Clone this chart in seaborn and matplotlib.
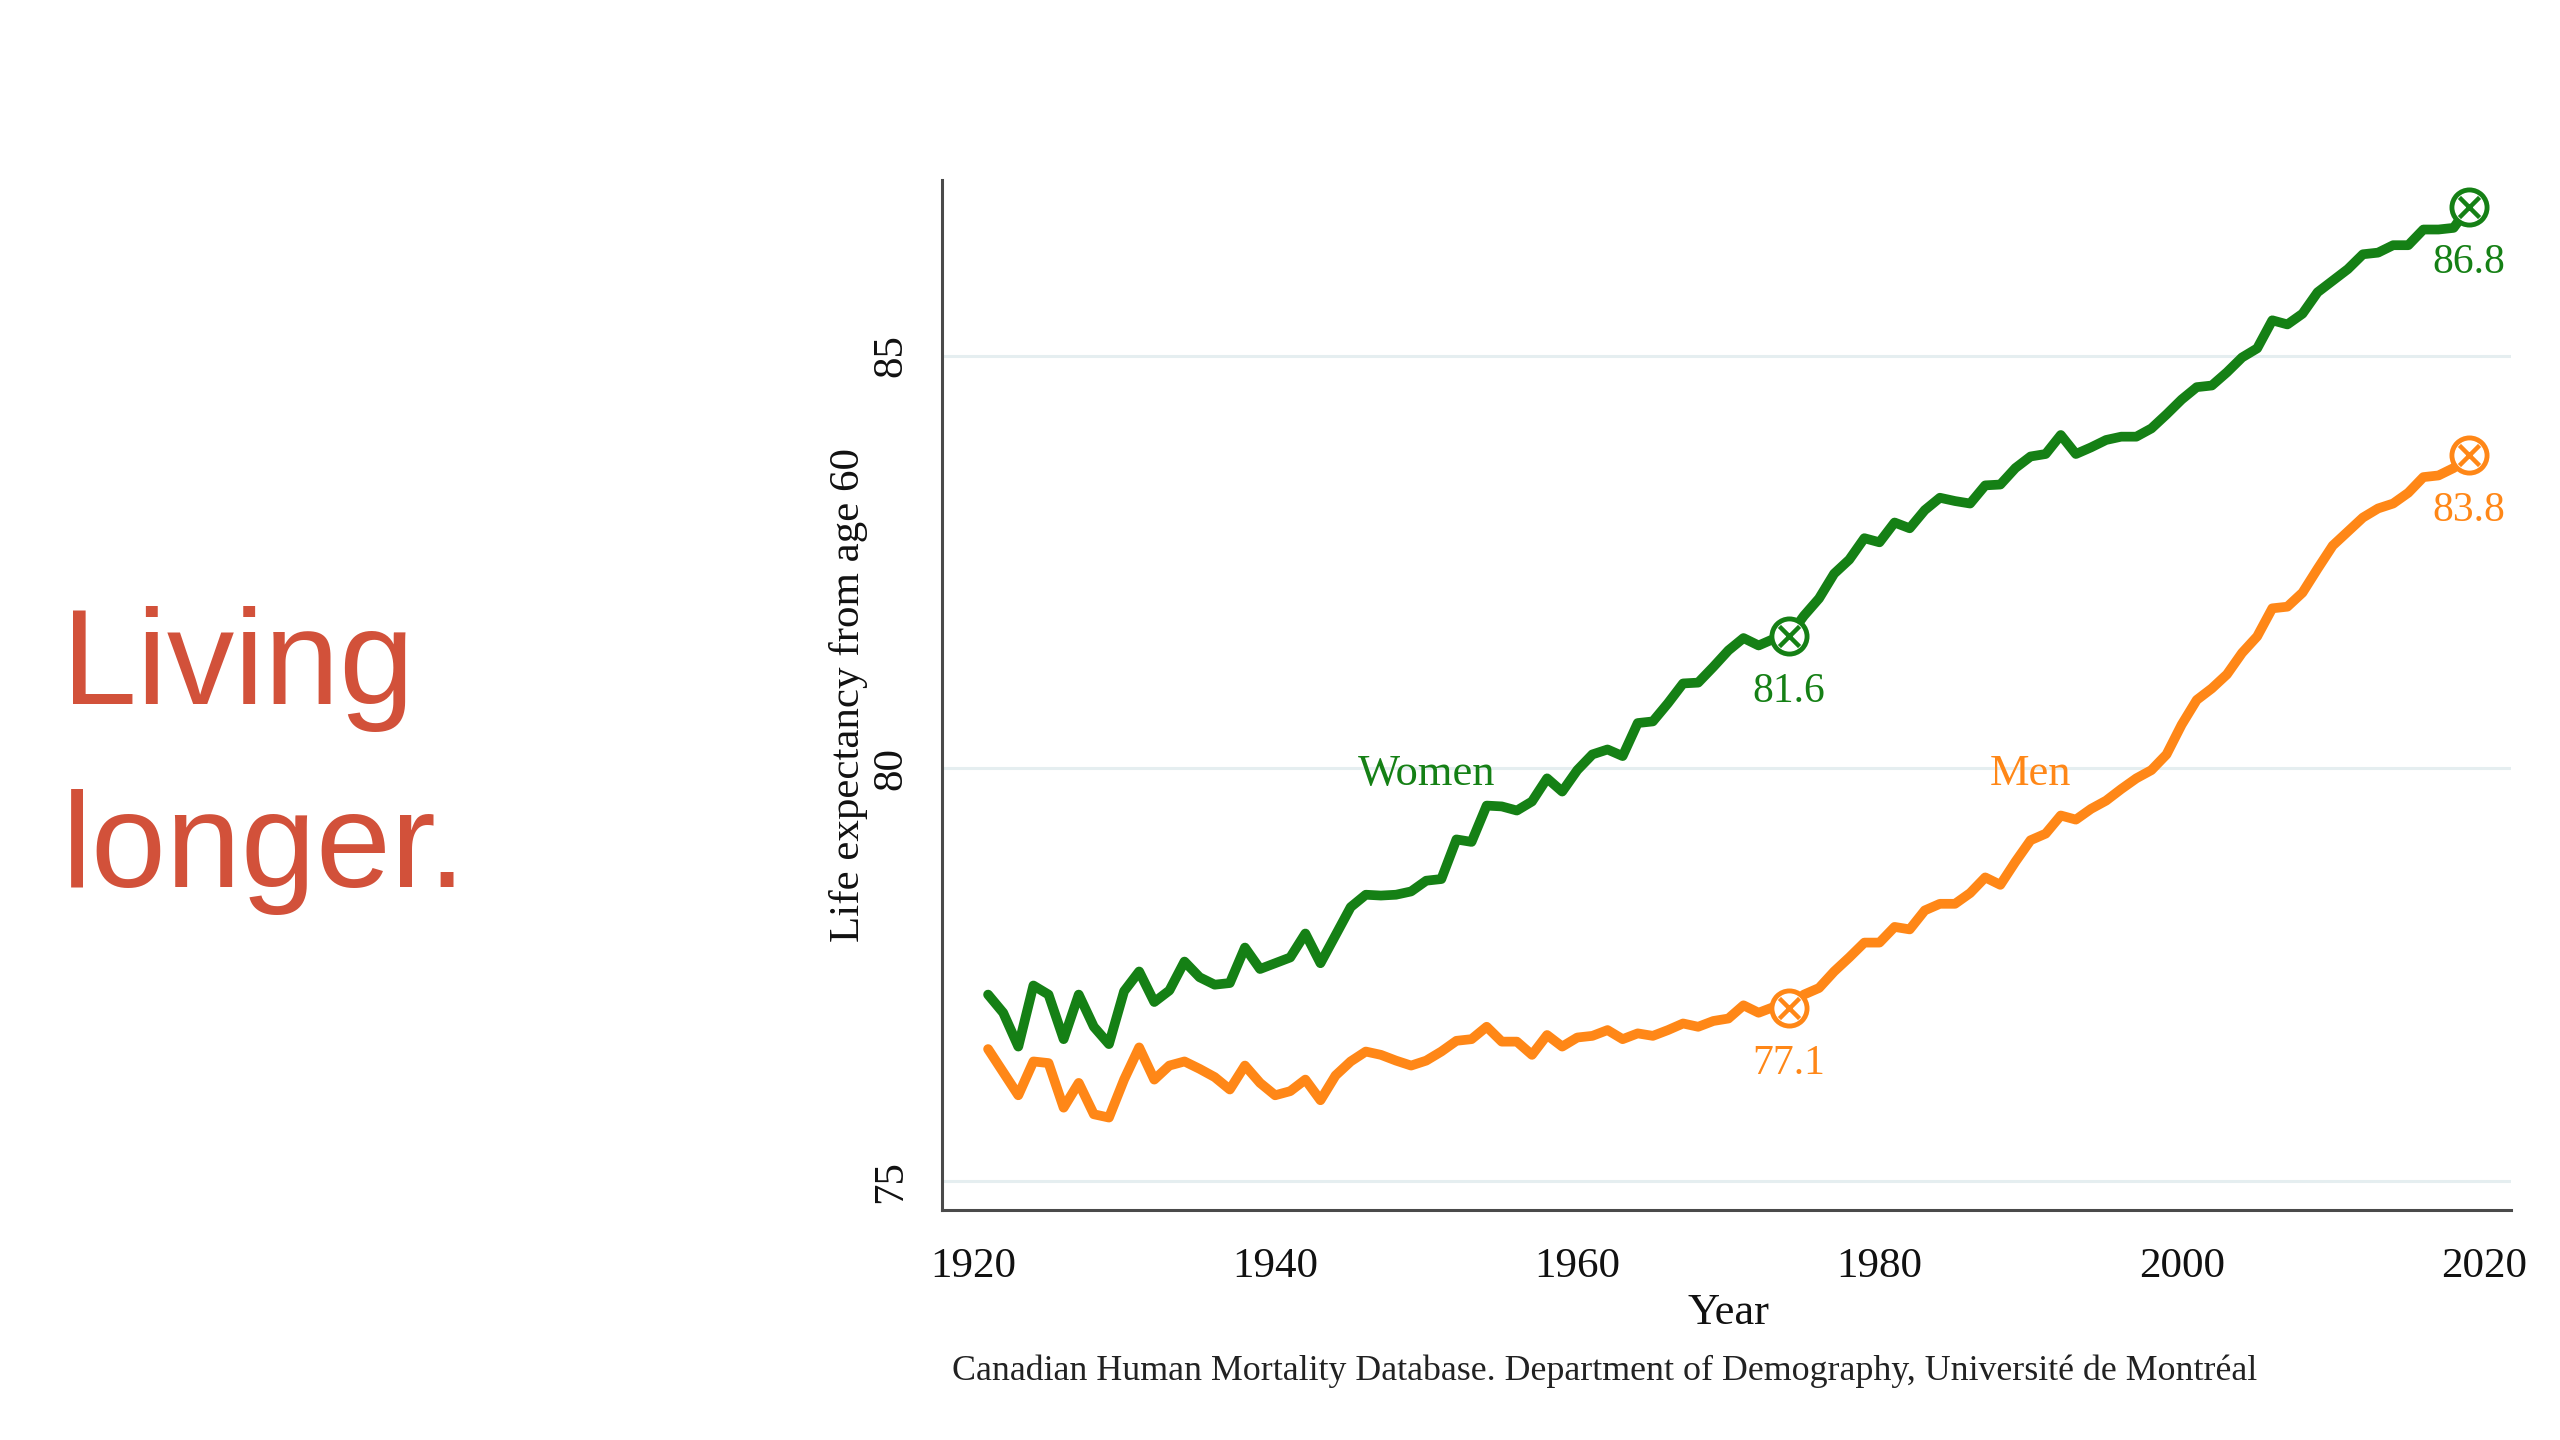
import numpy as np
import pandas as pd
import matplotlib
matplotlib.use("Agg")
import matplotlib.pyplot as plt
import seaborn as sns

# ----------------------------------------------------------------------
# Data: life expectancy from age 60, Canada
# ----------------------------------------------------------------------
years = list(range(1921, 2020))

women = [
    77.26, 77.04, 76.63, 77.37, 77.26, 76.72, 77.26, 76.87, 76.66, 77.30,
    77.54, 77.17, 77.31, 77.66, 77.47, 77.38, 77.40, 77.83, 77.57, 77.64,
    77.71, 78.00, 77.64, 77.98, 78.32, 78.47, 78.46, 78.47, 78.51, 78.64,
    78.66, 79.14, 79.11, 79.55, 79.54, 79.49, 79.60, 79.88, 79.72, 79.98,
    80.17, 80.23, 80.15, 80.55, 80.57, 80.79, 81.03, 81.04, 81.23, 81.43,
    81.58, 81.49, 81.57, 81.60, 81.85, 82.06, 82.36, 82.53, 82.79, 82.74,
    82.98, 82.91, 83.13, 83.28, 83.24, 83.21, 83.43, 83.44, 83.64, 83.78,
    83.81, 84.04, 83.81, 83.89, 83.98, 84.02, 84.02, 84.12, 84.29, 84.47,
    84.62, 84.64, 84.80, 84.98, 85.09, 85.43, 85.38, 85.51, 85.77, 85.91,
    86.05, 86.23, 86.25, 86.34, 86.34, 86.53, 86.53, 86.55, 86.80,
]

men = [
    76.60, 76.32, 76.04, 76.45, 76.43, 75.89, 76.19, 75.81, 75.77, 76.23,
    76.62, 76.23, 76.40, 76.45, 76.36, 76.26, 76.11, 76.40, 76.19, 76.04,
    76.09, 76.23, 75.98, 76.28, 76.45, 76.57, 76.53, 76.46, 76.40, 76.46,
    76.57, 76.70, 76.72, 76.87, 76.69, 76.69, 76.53, 76.77, 76.63, 76.74,
    76.76, 76.83, 76.72, 76.79, 76.76, 76.83, 76.91, 76.87, 76.94, 76.97,
    77.13, 77.04, 77.11, 77.10, 77.26, 77.34, 77.54, 77.71, 77.89, 77.89,
    78.08, 78.05, 78.28, 78.36, 78.36, 78.49, 78.68, 78.59, 78.87, 79.13,
    79.21, 79.43, 79.38, 79.51, 79.61, 79.75, 79.88, 79.98, 80.17, 80.53,
    80.83, 80.97, 81.14, 81.40, 81.60, 81.94, 81.96, 82.13, 82.42, 82.70,
    82.87, 83.04, 83.15, 83.21, 83.34, 83.53, 83.55, 83.64, 83.80,
]

highlight_years = [1974, 2019]
x_ticks = [1920, 1940, 1960, 1980, 2000, 2020]
y_ticks = [75, 80, 85]

GREEN = "#158015"
ORANGE = "#FF8717"
TITLE_RED = "#D2513A"
GRID = "#E5EEF0"
SPINE = "#4A4A4A"

df = pd.DataFrame({
    "year": years * 2,
    "value": women + men,
    "sex": ["Women"] * len(years) + ["Men"] * len(years),
})
palette = {"Women": GREEN, "Men": ORANGE}

# ----------------------------------------------------------------------
# Figure
# ----------------------------------------------------------------------
sns.set_style("white")
plt.rcParams["font.family"] = ["Liberation Serif", "DejaVu Serif"]

fig = plt.figure(figsize=(25.6, 14.4), dpi=100)
ax = fig.add_axes([942 / 2560, 1 - 1210 / 1440, (2511 - 942) / 2560, (1210 - 180) / 1440])

for yv in y_ticks:
    ax.axhline(yv, color=GRID, lw=2.2, zorder=0)

sns.lineplot(data=df, x="year", y="value", hue="sex", palette=palette,
             lw=7, legend=False, ax=ax, zorder=3)

# highlighted points (circle with x) + value labels
hl = df[df["year"].isin(highlight_years)]
for sex, color in palette.items():
    sub = hl[hl["sex"] == sex]
    sns.scatterplot(data=sub, x="year", y="value", marker="o", s=640,
                    facecolor="white", edgecolor=color, linewidth=3.5,
                    ax=ax, zorder=4)
    sns.scatterplot(data=sub, x="year", y="value", marker="x", s=210,
                    color=color, linewidth=3.2, ax=ax, zorder=5)
    for _, r in sub.iterrows():
        ax.annotate(f"{r['value']:.1f}", (r["year"], r["value"]),
                    xytext=(0, -40), textcoords="offset points",
                    ha="center", va="center", fontsize=30, color=color)

ax.text(1950, 79.93, "Women", color=GREEN, fontsize=32, ha="center", va="center")
ax.text(1990, 79.93, "Men", color=ORANGE, fontsize=32, ha="center", va="center")

ax.set_xlim(1917.95, 2021.8)
ax.set_ylim(74.65, 87.13)
ax.set_xticks(x_ticks)
ax.set_yticks(y_ticks)
ax.tick_params(axis="both", length=13, width=2, color=SPINE, labelsize=31,
               labelcolor="#111111", pad=14)
ax.tick_params(axis="y", pad=10)
for lab in ax.get_yticklabels():
    lab.set_rotation(90)
    lab.set_va("center")

sns.despine(ax=ax)
for side in ["left", "bottom"]:
    ax.spines[side].set_color(SPINE)
    ax.spines[side].set_linewidth(2.2)

ax.set_xlabel("Year", fontsize=32, color="#111111", va="center")
ax.xaxis.set_label_coords(0.501, -(1313 - 1210) / (1210 - 180))
ax.set_ylabel("Life expectancy from age 60", fontsize=31, color="#111111", va="center")
ax.yaxis.set_label_coords((849 - 942) / (2511 - 942), 0.5)

fig.text(1605 / 2560, 1 - 1371 / 1440,
         "Canadian Human Mortality Database. Department of Demography, Université de Montréal",
         fontsize=25.8, color="#222222", ha="center", va="center")

# slide title
fig.text(62 / 2560, 1 - 704 / 1440, "Living", family="Liberation Sans",
         fontsize=97, color=TITLE_RED, ha="left", va="baseline")
fig.text(62 / 2560, 1 - 887 / 1440, "longer.", family="Liberation Sans",
         fontsize=97, color=TITLE_RED, ha="left", va="baseline")

fig.savefig("out.png", dpi=100, facecolor="white")
